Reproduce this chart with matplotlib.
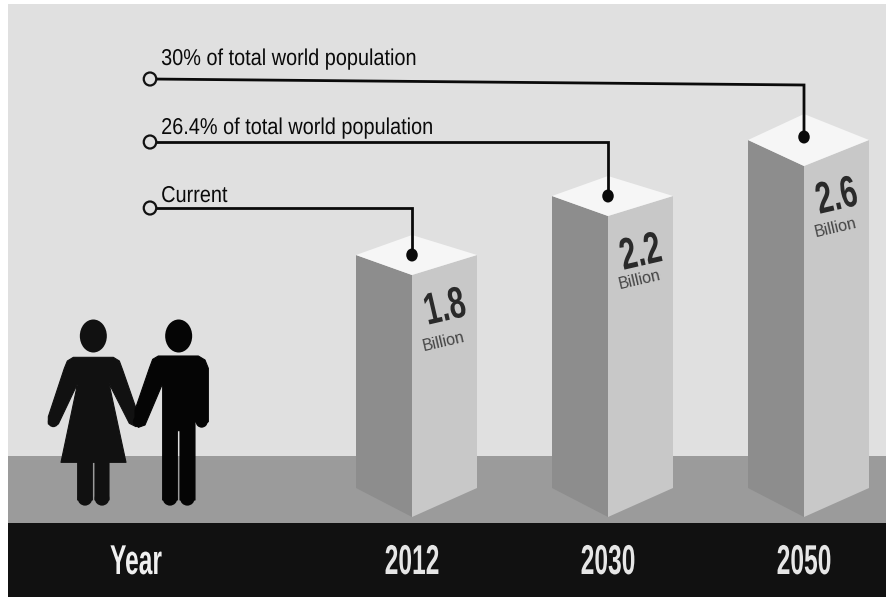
import matplotlib
matplotlib.use("Agg")
import matplotlib.pyplot as plt
from matplotlib.patches import Polygon, Rectangle, Circle, Ellipse
from matplotlib.patheffects import AbstractPathEffect
from matplotlib.transforms import Affine2D

years = ["2012", "2030", "2050"]
values = [1.8, 2.2, 2.6]
value_labels = ["1.8", "2.2", "2.6"]
notes = ["Current", "26.4% of total world population", "30% of total world population"]


class Squeeze(AbstractPathEffect):
    """Condense the glyphs of a real text horizontally about a chosen anchor."""
    def __init__(self, sx, anchor="center"):
        super().__init__()
        self.sx = sx
        self.anchor = anchor

    def draw_path(self, renderer, gc, tpath, affine, rgbFace=None):
        ext = tpath.get_extents()
        ox = ext.x0 if self.anchor == "left" else (ext.x0 + ext.x1) / 2
        pre = Affine2D().translate(-ox, 0).scale(self.sx, 1).translate(ox, 0)
        renderer.draw_path(gc, tpath, pre + affine, rgbFace)


W, H = 887, 599
plt.rcParams['font.family'] = ['Liberation Sans']
fig = plt.figure(figsize=(W/100, H/100), dpi=100)
ax = fig.add_axes([0, 0, 1, 1])
ax.set_xlim(0, W); ax.set_ylim(H, 0); ax.axis("off")

ax.add_patch(Rectangle((8, 4), W-8, 452, fc="#e0e0e0", ec="none"))
ax.add_patch(Rectangle((8, 456), W-8, 68, fc="#9b9b9b", ec="none"))
ax.add_patch(Rectangle((8, 523), W-8, 74, fc="#111111", ec="none"))

centers = [412, 608, 804]
note_y = [208, 142, 79]
note_end = [208, 142, 85]
text_base = [202, 134, 65]
depths = [20, 20, 26]
corner_dy = [0, 0, 3]
num_dy = [54, 58, 61]
bil_dy = [87, 84, 91]


def value_to_top(v):
    return 255 - (v - 1.8) * 147.5


for i, (cx, v, vl, yr, n) in enumerate(zip(centers, values, value_labels, years, notes)):
    top = value_to_top(v)
    L, R = cx - 56, cx + 65
    bot = 517
    d = depths[i]
    c = top + corner_dy[i]
    ax.add_patch(Polygon([(L, c), (cx, c+d), (cx, bot), (L, bot-29)], fc="#8d8d8d", ec="none", zorder=1))
    ax.add_patch(Polygon([(cx, c+d), (R, c), (R, bot-29), (cx, bot)], fc="#c8c8c8", ec="none", zorder=1))
    ax.add_patch(Polygon([(L, c), (cx, c-d), (R, c), (cx, c+d)], fc="#f6f6f6", ec="none", zorder=1))
    ax.plot([150, cx, cx], [note_y[i], note_end[i], top], color="#0a0a0a", lw=2, zorder=3, solid_joinstyle="miter")
    ax.add_patch(Ellipse((150, note_y[i]), 12.5, 13, fc="#e0e0e0", ec="#111111", lw=1.6, zorder=4))
    ax.add_patch(Ellipse((cx, top), 11.5, 13, fc="#0a0a0a", ec="none", zorder=5))
    ax.text(161, text_base[i], n, fontsize=16.5, color="#0a0a0a", va="baseline", ha="left",
            path_effects=[Squeeze(0.868, "left")], zorder=6)
    ax.text(cx+33, top+num_dy[i], vl, fontsize=32, fontweight="bold", color="#2a2a2a", rotation=13,
            ha="center", va="center", rotation_mode="anchor", path_effects=[Squeeze(0.67)], zorder=6)
    ax.text(cx+32, top+bil_dy[i], "Billion", fontsize=11.5, color="#444444", rotation=13,
            ha="center", va="center", rotation_mode="anchor", zorder=6)
    ax.text(cx, 574, yr, fontsize=30, fontweight="bold", color="#e6e6e6", ha="center", va="baseline",
            path_effects=[Squeeze(0.59)], zorder=6)
ax.text(136, 574, "Year", fontsize=30, fontweight="bold", color="#f0f0f0", ha="center", va="baseline",
        path_effects=[Squeeze(0.59)], zorder=6)


# pictogram outlines, measured in a 3x crop whose corner is (30, 300)
def pict(points):
    return [(30 + x/3, 300 + y/3) for x, y in points]


woman = [(130, 172), (250, 172), (268, 183), (278, 210), (325, 345), (335, 370), (318, 380), (298, 370),
         (237, 250), (288, 487), (237, 487), (237, 600), (195, 600), (195, 487), (187, 487), (187, 600),
         (143, 600), (143, 487), (93, 487), (143, 250), (85, 372), (55, 372), (55, 350), (103, 205), (112, 183)]
man = [(385, 168), (505, 168), (525, 180), (535, 205), (535, 365), (515, 380), (497, 365), (495, 250), (495, 600),
       (450, 600), (450, 392), (442, 392), (442, 600), (398, 600), (398, 250), (345, 375), (325, 382),
       (315, 360), (315, 330), (358, 205), (368, 178)]
for pts, col in ((woman, "#111111"), (man, "#050505")):
    ax.add_patch(Polygon(pict(pts), fc=col, ec=col, lw=0.8, joinstyle="round", zorder=2))
for hx, col in ((190, "#111111"), (446, "#050505")):
    ax.add_patch(Ellipse(pict([(hx, 108)])[0], 27, 33, fc=col, ec="none", zorder=2))
for lx, col in ((165, "#111111"), (216, "#111111"), (420, "#050505"), (472, "#050505")):
    ax.add_patch(Circle(pict([(lx, 595)])[0], 7.3, fc=col, ec="none", zorder=2))
for hx, hy, r, col in ((70, 365, 5.5, "#111111"), (515, 365, 6, "#050505"), (325, 365, 5.5, "#050505")):
    ax.add_patch(Circle(pict([(hx, hy)])[0], r, fc=col, ec="none", zorder=2))

fig.savefig("out.png", dpi=100, facecolor="white")
